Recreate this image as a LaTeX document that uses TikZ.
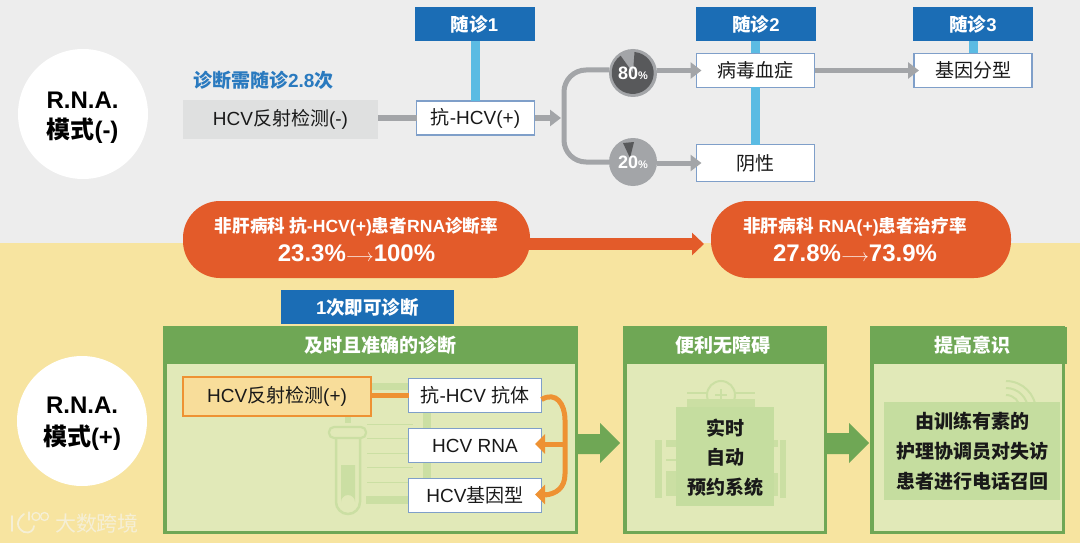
\documentclass[tikz,border=0pt]{standalone}
\usepackage{fontspec}
\usetikzlibrary{arrows.meta,positioning,calc}
\setmainfont{Liberation Sans}
\newfontfamily\cjk{Noto Sans CJK SC}
\newcommand{\C}[1]{{\cjk #1}}
\newcommand{\fs}[1]{\fontsize{#1}{#1}\selectfont}
\newcommand{\longarr}{{\fontsize{18.5}{18.5}\selectfont$\longrightarrow$}}
\definecolor{bggray}{HTML}{EDEDED}
\definecolor{bgyel}{HTML}{F7E4A0}
\definecolor{hdrblue}{HTML}{1B6DB5}
\definecolor{barblue}{HTML}{5BBBE3}
\definecolor{edgeblue}{HTML}{7F9FC9}
\definecolor{txtblue}{HTML}{2A7ABF}
\definecolor{conn}{HTML}{A3A5A8}
\definecolor{darkpie}{HTML}{58595B}
\definecolor{pillcol}{HTML}{E35B2A}
\definecolor{grn}{HTML}{6FA755}
\definecolor{grnin}{HTML}{E1E9B8}
\definecolor{grnbox}{HTML}{C5DD9F}
\definecolor{iconcol}{HTML}{CBDFA3}
\definecolor{orangecol}{HTML}{EE9233}
\definecolor{orfill}{HTML}{F8DD9A}
\definecolor{wmark}{HTML}{F5EFD6}
\definecolor{greybox}{HTML}{DFE0E0}
\tikzset{
 x=1pt,y=-1pt,
 every node/.style={inner sep=0pt,outer sep=0pt,text=black!90},
 mode/.style={circle,fill=white,minimum size=130pt},
 modetext/.style={align=center,font=\bfseries\fs{24},text=black},
 visit/.style={fill=hdrblue,minimum width=120pt,minimum height=34pt,font=\bfseries\fs{18.5},text=white},
 wbox/.style={fill=white,draw=edgeblue,line width=1.2pt,minimum width=118pt,font=\fs{19}},
 barline/.style={barblue,line width=9pt},
 gline/.style={conn,line width=5pt},
 garrow/.style={conn,line width=5pt,-{Triangle[length=11pt,width=16pt]}},
 oline/.style={orangecol,line width=5pt},
 oarrow/.style={orangecol,line width=5pt,-{Triangle[length=10pt,width=19pt]}},
 pct/.style={circle,fill=conn,minimum size=48pt},
 pctlab/.style={font=\bfseries\fs{18},text=white},
 pillbox/.style={fill=pillcol,rounded corners=37pt,minimum height=77pt},
 pilltext/.style={align=center,text=white},
 panel/.style={fill=grnin,draw=grn,line width=3.5pt},
 phead/.style={fill=grn,minimum height=37pt},
 headtext/.style={font=\bfseries\fs{19},text=white},
 bigarrow/.style={fill=grn},
 ticon/.style={draw=iconcol,line width=1.3pt},
 tbox/.style={fill=white,draw=edgeblue,line width=1pt,minimum width=133pt,minimum height=34pt,font=\fs{19}},
 inbox/.style={fill=grnbox,align=center,font=\bfseries\fs{19}},
}
\begin{document}
\begin{tikzpicture}
\useasboundingbox (0,0) rectangle (1080,543);
\fill[bggray] (0,0) rectangle (1080,243);
\fill[bgyel] (0,243) rectangle (1080,543);
% mode circles
\node[mode] (m1) at (83,114) {};
\node[mode] (m2) at (82,421) {};
\node[modetext] at (82.5,118) {R.N.A.\\[6pt]\C{模式}(-)};
\node[modetext] at (82,424) {R.N.A.\\[8pt]\C{模式}(+)};
% top row boxes
\node[visit] (v1) at (474.5,24) {\C{随诊}1};
\node[visit] (v2) at (756,24) {\C{随诊}2};
\node[visit] (v3) at (973,24.5) {\C{随诊}3};
\node[wbox,minimum height=34pt] (anti) at (475.5,118) {\C{抗}-HCV(+)};
\node[wbox,minimum height=34pt] (vir) at (755.5,70.5) {\C{病毒血症}};
\node[wbox,minimum height=37pt] (neg) at (755.5,163) {\C{阴性}};
\node[wbox,minimum height=34pt] (geno) at (973,70.5) {\C{基因分型}};
\node[fill=greybox,minimum width=195pt,minimum height=39pt,font=\fs{19}] (refl) at (280.5,119.5) {HCV\C{反射检测}(-)};
\node[anchor=west,font=\bfseries\fs{19},text=txtblue] (need) at (193,80) {\C{诊断需随诊}2.8\C{次}};
% bars
\draw[barline] (v1.south -| anti.north) -- (anti.north);
\draw[barline] (v2.south -| vir.north) -- (vir.north);
\draw[barline] (vir.south) -- (neg.north);
\draw[barline] (v3.south) -- (geno.north);
% pies
\node[pct] (p80) at (633,73) {};
\node[pct] (p20) at (633,162) {};
\fill[darkpie] (p80.center) -- ++(1.5,-21) arc[start angle=-85,delta angle=320,radius=21] -- cycle;
\fill[darkpie] (623,143) -- (634,142) -- (630,158) -- cycle;
% connectors
\coordinate (split) at (561,118);
\draw[gline] (refl.east |- anti.west) -- (anti.west);
\draw[garrow] (anti.east) -- (split);
\draw[gline,rounded corners=22pt] (p80.west |- 0,70) -- (564,70) -- (564,162) -- (p20.west);
\draw[garrow] (p80.east |- vir.west) -- ([xshift=5pt]vir.west);
\draw[garrow] (p20.east |- neg.west) -- ([xshift=5pt]neg.west);
\draw[garrow] (vir.east) -- ([xshift=5pt]geno.west);
\node[pctlab] at (p80.center) {80\fs{11}\%};
\node[pctlab] at (p20.center) {20\fs{11}\%};
% pills
\node[pillbox,minimum width=347pt] (pl) at (356.5,239.5) {};
\node[pillbox,minimum width=300pt] (pr) at (861,239.5) {};
\node[pilltext] (tl) at (356.5,239.5) {\bfseries\fs{17.6}\C{非肝病科 抗}-HCV(+)\C{患者}RNA\C{诊断率}\\[7pt]\bfseries\fs{24}23.3\%\longarr 100\%};
\node[pilltext] (tr) at (855,239.5) {\bfseries\fs{17.6}\C{非肝病科} RNA(+)\C{患者治疗率}\\[7pt]\bfseries\fs{24}27.8\%\longarr 73.9\%};
\coordinate (plr) at (525,244);
\draw[pillcol,line width=12pt,-{Triangle[length=12pt,width=22pt,sep=0pt]}] (plr) -- ([xshift=-7pt]pr.west |- plr);
% once tag
\node[fill=hdrblue,minimum width=173pt,minimum height=34pt,font=\bfseries\fs{18.5},text=white] (once) at (367.5,307) {1\C{次即可诊断}};
% panels
\node[panel,minimum width=411.5pt,minimum height=204.5pt] (pa) at (370.5,430) {};
\node[panel,minimum width=200.5pt,minimum height=204.5pt] (pb) at (725,430) {};
\node[panel,minimum width=191.5pt,minimum height=204.5pt] (pc) at (967.5,430) {};
\node[phead,minimum width=415pt] (ha) at (370.5,345) {};
\node[phead,minimum width=204pt] (hb) at (725,345) {};
\node[phead,minimum width=197pt] (hc) at (968.5,345) {};
\node[headtext] at (380.5,345) {\C{及时且准确的诊断}};
\node[headtext] at (723,345) {\C{便利无障碍}};
\node[headtext] at (972,345) {\C{提高意识}};
% test-tube watermark
\fill[iconcol] (372,383) rectangle (408,390);
\fill[iconcol] (423,413) rectangle (431,478);
\fill[iconcol] (345,417) rectangle (351,423);
\foreach \yy in {424,438,453,467,482}{\draw[ticon,line width=.9pt] (367,\yy) -- (413,\yy);}
\fill[iconcol] (366,496) rectangle (408,504);
\draw[ticon,line width=2.2pt,rounded corners=5pt] (329,427) rectangle (366,438);
\draw[ticon,line width=2.5pt] (336,438) -- (336,502) arc[start angle=180,end angle=0,radius=12] -- (360,438);
\fill[iconcol] (341,465) -- (355,465) -- (355,502) arc[start angle=0,end angle=-180,radius=7] -- cycle;
% machine watermark
\draw[ticon,line width=2pt] (721,395) circle[radius=14];
\draw[ticon,line width=2pt] (715,395) -- (727,395) (721,389) -- (721,401);
\draw[ticon] (687,393) -- (707,393) (735,393) -- (755,393);
\fill[iconcol] (687,399) rectangle (755,407);
\fill[iconcol] (655,440) rectangle (662,498);
\fill[iconcol] (666,440) rectangle (676,447);
\fill[iconcol] (666,473) rectangle (676,496);
\draw[ticon] (666,460) -- (676,460) (666,472) -- (676,472);
\fill[iconcol] (780,440) rectangle (786,498);
\fill[iconcol] (774,440) rectangle (778,447);
\fill[iconcol] (774,473) rectangle (778,496);
% wifi watermark
\draw[ticon,line width=2pt] (1006,381) arc[start angle=-90,end angle=0,radius=30];
\draw[ticon,line width=2pt] (1006,388) arc[start angle=-90,end angle=0,radius=22];
\draw[ticon,line width=2pt] (1006,395) arc[start angle=-90,end angle=0,radius=14];
% inner
\node[fill=orfill,draw=orangecol,line width=2.5pt,minimum width=188pt,minimum height=39pt,font=\fs{19}] (hp) at (277,396.5) {HCV\C{反射检测}(+)};
\node[tbox] (t1) at (475,395.5) {\C{抗}-HCV \C{抗体}};
\node[tbox] (t2) at (475,445.5) {HCV RNA};
\node[tbox] (t3) at (475,495) {HCV\C{基因型}};
\draw[oline] (hp.east |- t1.west) -- (t1.west);
\draw[oline] ([yshift=-4pt]t1.east) .. controls (556,391) and (565,404) .. (565,420) -- (565,474) .. controls (565,488) and (556,494) .. (545,495);
\coordinate (br) at (565,444);
\coordinate (tipa) at (535,444);
\coordinate (brb) at (550,494.5);
\coordinate (tipb) at (535,494.5);
\draw[oarrow] (br) -- (tipa);
\draw[oarrow] (brb) -- (tipb);
% big arrows
\fill[bigarrow] (pa.east |- 0,434) -- (600,434) -- (600,423) -- (620,443) -- (600,463) -- (600,454) -- (pa.east |- 0,454) -- cycle;
\fill[bigarrow] (pb.east |- 0,433) -- (849,433) -- (849,423) -- (869,443) -- (849,463) -- (849,454) -- (pb.east |- 0,454) -- cycle;
% green text boxes
\node[inbox,minimum width=98pt,minimum height=99pt] (sys) at (725,456.5) {};
\node[inbox] at (725,457.5) {\C{实时}\\[10.5pt]\C{自动}\\[10.5pt]\C{预约系统}};
\node[inbox,minimum width=176pt,minimum height=98pt] (call) at (972,451) {\C{由训练有素的}\\[11pt]\C{护理协调员对失访}\\[11pt]\C{患者进行电话召回}};
% brand mark
\node[anchor=west,font=\fs{21},text=wmark] (brand) at (55,523) {\C{大数跨境}};
\begin{scope}[line width=1.8pt,line cap=round]
\draw[wmark] (12,516) -- (12,531);
\draw[wmark] (24,514) .. controls (16,520) and (16,528) .. (24,532) .. controls (30,534) and (34,530) .. (34,526);
\draw[wmark,line width=1.3pt] (29,512) -- (29,520);
\draw[wmark,line width=1.3pt] (36,516.5) circle[radius=4];
\draw[wmark,line width=1.3pt] (44.5,516.5) circle[radius=4];
\end{scope}
\end{tikzpicture}
\end{document}
